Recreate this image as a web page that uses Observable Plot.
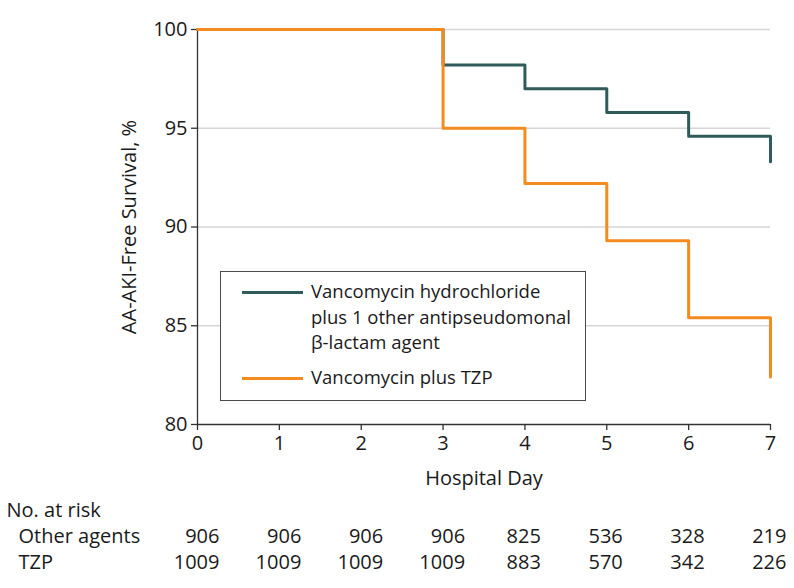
<!DOCTYPE html>
<html>
<head>
<meta charset="utf-8">
<script src="https://cdn.jsdelivr.net/npm/d3@7"></script>
<script src="https://cdn.jsdelivr.net/npm/@observablehq/plot@0.6"></script>
<style>
  body { margin: 0; background: #fff; }
  #wrap { position: relative; width: 794px; height: 588px; font-family: "Open Sans", sans-serif; color: #1a1a1a; }
  #legend { position: absolute; left: 220px; top: 271px; width: 364px; height: 128px; border: 1.5px solid #4a4a4a; background: #fff; }
  .sw { position: absolute; left: 21px; width: 61px; height: 3px; }
  .lt { position: absolute; left: 90px; font-size: 18.5px; line-height: 25.5px; white-space: nowrap; }
</style>
</head>
<body>
<div id="wrap"></div>
<script>
const days = [0, 1, 2, 3, 4, 5, 6, 7];
const otherSurvival = [100, 100, 100, 98.2, 97.0, 95.8, 94.6, 93.3];
const tzpSurvival = [100, 100, 100, 95.0, 92.2, 89.3, 85.4, 82.4];
const yTicks = [80, 85, 90, 95, 100];
const gridTicks = [85, 90, 95, 100];
const riskOther = [906, 906, 906, 906, 825, 536, 328, 219];
const riskTZP = [1009, 1009, 1009, 1009, 883, 570, 342, 226];
const seriesNames = ["Vancomycin hydrochloride plus 1 other antipseudomonal β-lactam agent", "Vancomycin plus TZP"];
const rowLabels = ["Other agents", "TZP"];
const colors = ["#2f5b5b", "#f38b1f"];

const other = days.map((d, i) => ({day: d, s: otherSurvival[i]}));
const tzp = days.map((d, i) => ({day: d, s: tzpSurvival[i]}));
const risk = days.map((d, i) => {
  const w = Math.max(String(riskOther[i]).length, String(riskTZP[i]).length);
  return {day: d, o: String(riskOther[i]), t: String(riskTZP[i]), w};
});

const ink = "#1a1a1a";
const plot = Plot.plot({
  width: 794,
  height: 588,
  marginLeft: 197,
  marginRight: 24,
  marginTop: 29,
  marginBottom: 164,
  style: {fontFamily: "Open Sans, sans-serif", fontSize: "20px", color: ink, background: "#fff", overflow: "visible"},
  x: {domain: [0, 7], ticks: days, tickFormat: "d"},
  y: {domain: [80, 100], ticks: yTicks, tickFormat: "d"},
  marks: [
    Plot.ruleY(gridTicks, {stroke: "#d6d6d6", strokeWidth: 1.5}),
    Plot.axisX({ticks: days, tickFormat: "d", tickSize: 6, tickPadding: 5, stroke: "#333", strokeWidth: 1.3, label: "Hospital Day", labelAnchor: "center", labelArrow: "none", labelOffset: 60}),
    Plot.axisY({ticks: yTicks, tickFormat: "d", tickSize: 6, tickPadding: 4, stroke: "#333", strokeWidth: 1.3, label: "AA-AKI-Free Survival, %", labelAnchor: "center", labelArrow: "none", labelOffset: 76}),
    Plot.ruleX([0], {stroke: "#333", strokeWidth: 1.3}),
    Plot.ruleY([80], {stroke: "#333", strokeWidth: 1.3}),
    Plot.line(other, {x: "day", y: "s", curve: "step-after", stroke: colors[0], strokeWidth: 3}),
    Plot.line(tzp, {x: "day", y: "s", curve: "step-after", stroke: colors[1], strokeWidth: 3}),
    Plot.text(["No. at risk"], {frameAnchor: "bottom-left", dx: -191, dy: 92, textAnchor: "start", fill: ink}),
    Plot.text([rowLabels[0]], {frameAnchor: "bottom-left", dx: -179, dy: 118, textAnchor: "start", fill: ink}),
    Plot.text([rowLabels[1]], {frameAnchor: "bottom-left", dx: -179, dy: 144, textAnchor: "start", fill: ink}),
    Plot.text(risk.filter(r => r.w === 4), {x: "day", frameAnchor: "bottom", text: "o", textAnchor: "end", dx: 22, dy: 118, fill: ink}),
    Plot.text(risk.filter(r => r.w === 4), {x: "day", frameAnchor: "bottom", text: "t", textAnchor: "end", dx: 22, dy: 144, fill: ink}),
    Plot.text(risk.filter(r => r.w === 3), {x: "day", frameAnchor: "bottom", text: "o", textAnchor: "end", dx: 16, dy: 118, fill: ink}),
    Plot.text(risk.filter(r => r.w === 3), {x: "day", frameAnchor: "bottom", text: "t", textAnchor: "end", dx: 16, dy: 144, fill: ink})
  ]
});

const wrap = document.getElementById("wrap");
wrap.appendChild(plot);

const legend = document.createElement("div");
legend.id = "legend";
legend.innerHTML = `
  <div class="sw" style="top:19px;background:${colors[0]}"></div>
  <div class="lt" style="top:6px">Vancomycin hydrochloride<br>plus 1 other antipseudomonal<br>β-lactam agent</div>
  <div class="sw" style="top:105px;background:${colors[1]}"></div>
  <div class="lt" style="top:92px">${seriesNames[1]}</div>`;
wrap.appendChild(legend);
</script>
</body>
</html>
